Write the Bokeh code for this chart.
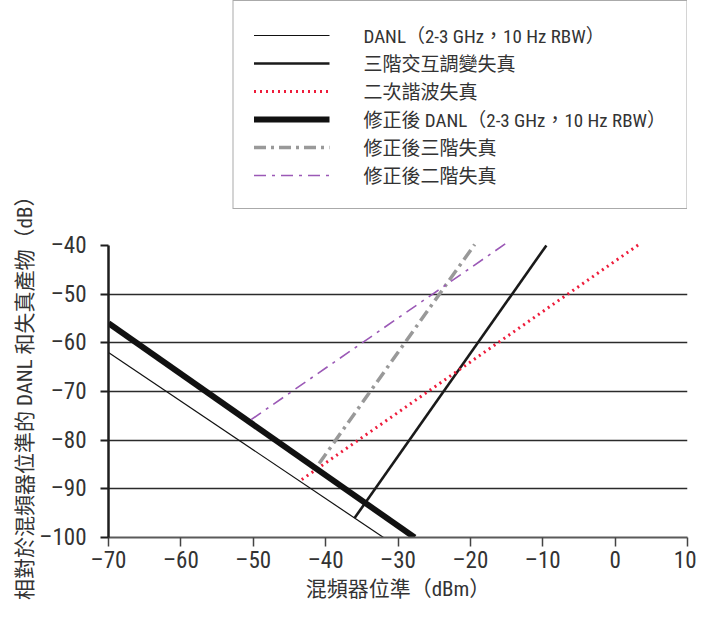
from bokeh.plotting import figure
from bokeh.models import Range1d, FixedTicker, Legend, LegendItem, Title
from bokeh.embed import file_html
from bokeh.resources import INLINE

# ---- data ----
x_ticks = [-70, -60, -50, -40, -30, -20, -10, 0, 10]
y_ticks = [-100, -90, -80, -70, -60, -50, -40]
grid_levels = [-90, -80, -70, -60, -50]

danl_x = [-70, -32]
danl_y = [-62, -100]
im3_x = [-36, -9.5]
im3_y = [-96, -40]
shd_x = [-43.3, 3.4]
shd_y = [-88.1, -39.7]
danl_corr_x = [-70, -27.7]
danl_corr_y = [-56, -100]
im3_corr_x = [-40.9, -19.4]
im3_corr_y = [-84.8, -39.8]
shd_corr_x = [-50.3, -15.0]
shd_corr_y = [-75.8, -39.5]

labels = [
    "DANL（2-3 GHz，10 Hz RBW）",
    "三階交互調變失真",
    "二次諧波失真",
    "修正後 DANL（2-3 GHz，10 Hz RBW）",
    "修正後三階失真",
    "修正後二階失真",
]
x_title = "混頻器位準（dBm）"
y_title = "相對於混頻器位準的 DANL 和失真產物（dB）"

NUM = "Roboto Condensed, Roboto"
MIX = "Roboto Condensed, Noto Sans CJK TC"
TXT = "#333333"

p = figure(width=696, height=605, output_backend="svg", toolbar_location=None,
           x_range=Range1d(-70, 10), y_range=Range1d(-100, 10.3),
           min_border_left=108, min_border_right=9, min_border_top=0,
           min_border_bottom=68)
p.outline_line_color = None
p.background_fill_color = "white"
p.xgrid.visible = False
p.ygrid.ticker = FixedTicker(ticks=grid_levels)
p.ygrid.grid_line_color = "#2b2b2b"
p.ygrid.grid_line_width = 1.6

def minus(v):
    return ("–" + str(abs(v))) if v < 0 else str(v)

ya = p.yaxis[0]
ya.ticker = FixedTicker(ticks=y_ticks)
ya.bounds = (-100, -40)
ya.axis_line_color = "#1e1e1e"
ya.axis_line_width = 2.5
ya.major_tick_line_color = "#1e1e1e"
ya.major_tick_line_width = 2
ya.major_tick_out = 8
ya.major_tick_in = 0
ya.minor_tick_line_color = None
ya.major_label_text_font = NUM
ya.major_label_text_font_size = "23px"
ya.major_label_text_color = TXT
ya.major_label_standoff = 14
ya.major_label_overrides = {v: minus(v) for v in y_ticks}

xa = p.xaxis[0]
xa.ticker = FixedTicker(ticks=x_ticks)
xa.axis_line_color = "#5a5a5a"
xa.axis_line_width = 2
xa.major_tick_line_color = "#444444"
xa.major_tick_line_width = 1.5
xa.major_tick_out = 9
xa.major_tick_in = 0
xa.minor_tick_line_color = None
xa.major_label_text_font = NUM
xa.major_label_text_font_size = "23px"
xa.major_label_text_color = TXT
xa.major_label_standoff = 0
xa.major_label_overrides = {v: minus(v) for v in x_ticks}
xa.axis_label = x_title
xa.axis_label_text_font = MIX
xa.axis_label_text_font_size = "21px"
xa.axis_label_text_font_style = "normal"
xa.axis_label_text_color = TXT
xa.axis_label_standoff = 0

# y-axis title: the frame also holds the legend, so place it along the -100..-40 part
p.add_layout(Title(text=y_title, align="right", offset=185, standoff=0,
                   text_font=MIX, text_font_size="21px",
                   text_font_style="normal", text_color=TXT), "left")

r1 = p.line(danl_x, danl_y, line_color="#111111", line_width=1.2)
r2 = p.line(im3_x, im3_y, line_color="#1a1a1a", line_width=2.6)
r3 = p.line(shd_x, shd_y, line_color="#ee1c3b", line_width=3, line_dash="2 4")
r4 = p.line(danl_corr_x, danl_corr_y, line_color="#111111", line_width=6)
r5 = p.line(im3_corr_x, im3_corr_y, line_color="#999999", line_width=3.5,
            line_dash="12 5 3 5")
r6 = p.line(shd_corr_x, shd_corr_y, line_color="#9b59b6", line_width=1.6,
            line_dash="12 6 3 6")

rs = [r1, r2, r3, r4, r5, r6]
legend = Legend(items=[LegendItem(label=l, renderers=[r]) for l, r in zip(labels, rs)],
                location="top_right", margin=0, padding=20, spacing=1,
                glyph_width=76, glyph_height=24, label_height=24,
                label_standoff=34, label_text_font=MIX,
                label_text_font_size="19px", label_text_color=TXT,
                border_line_color="#555555", border_line_width=1.6,
                background_fill_color="white", background_fill_alpha=1.0)
p.add_layout(legend)

open("out.html", "w").write(file_html(p, INLINE))
